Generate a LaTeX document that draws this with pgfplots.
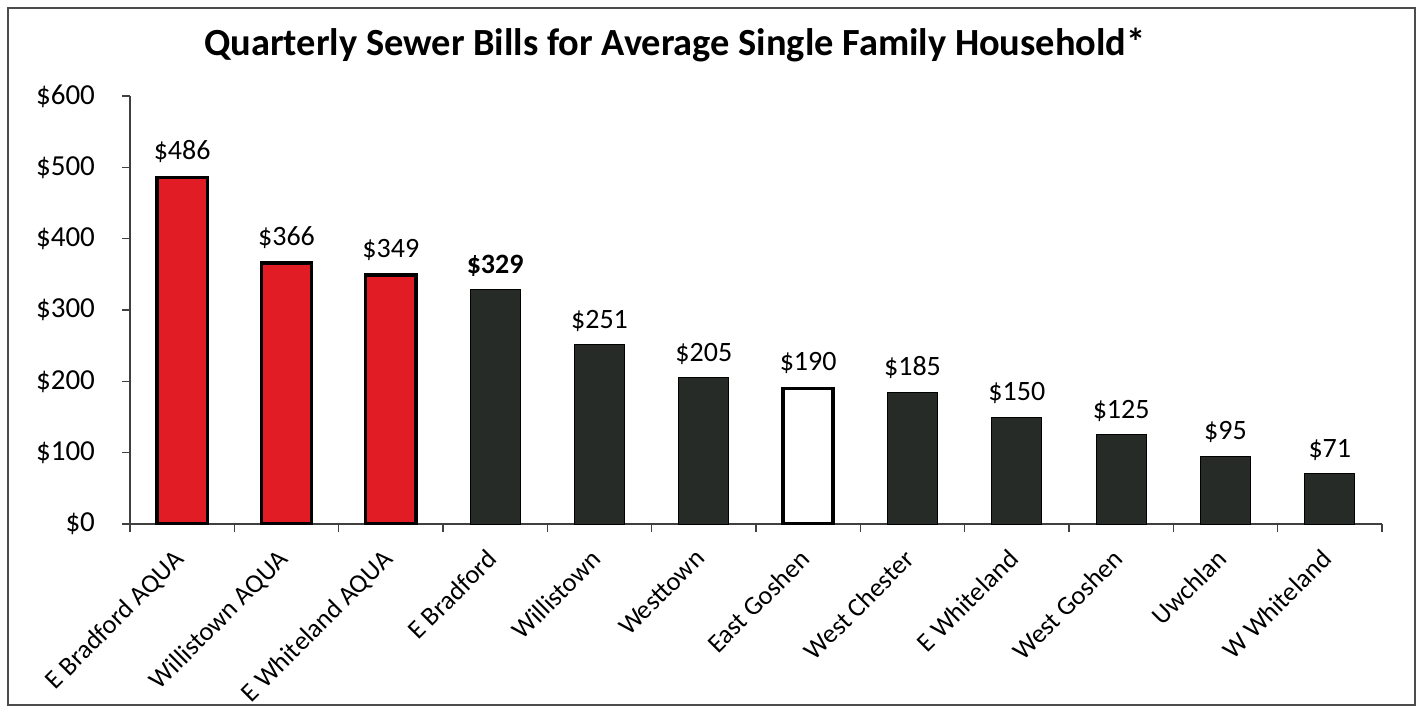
\documentclass[border=0pt]{standalone}
\usepackage{pgfplots}
\pgfplotsset{compat=1.18}
\usepackage{fontspec}
\setmainfont{Carlito}

\definecolor{aquared}{HTML}{E21C24}
\definecolor{darkbar}{HTML}{262B28}

\begin{document}
\begin{tikzpicture}
\useasboundingbox (-65pt,-91.5pt) rectangle (645.5pt,262pt);
\begin{axis}[
    scale only axis,
    width=626pt, height=214pt,
    xmin=-0.5, xmax=11.5,
    ymin=0, ymax=600,
    ybar, bar width=0.48, bar shift=0pt,
    axis x line*=bottom, axis y line*=left,
    axis line style={-, black!75, line width=0.8pt},
    tick align=outside,
    major tick length=4pt, minor tick length=4pt,
    tick style={black!75, line width=0.6pt},
    ytick={0,100,...,600},
    yticklabel={\$\pgfmathprintnumber[assume math mode=true]{\tick}},
    yticklabel style={xshift=-10pt, font=\fontsize{14.5}{16}\selectfont},
    xtick={0,...,11},
    major x tick style={draw=none},
    minor xtick={-0.5,0.5,...,11.5},
    xticklabels={E Bradford AQUA, Willistown AQUA, E Whiteland AQUA, E Bradford,
        Willistown, Westtown, East Goshen, West Chester, E Whiteland,
        West Goshen, Uwchlan, W Whiteland},
    xticklabel style={rotate=45, anchor=north east, inner sep=1pt,
        yshift=-1pt, xshift=-8pt, font=\fontsize{13.2}{16}\selectfont},
    nodes near coords={\$\pgfmathprintnumber[assume math mode=true]{\pgfplotspointmeta}},
    every node near coord/.append style={font=\fontsize{14}{16}\selectfont, black, yshift=3pt},
]
\addplot[fill=aquared, draw=black, line width=1.7pt]
    coordinates {(0,486)(1,366)(2,349)};
\addplot[fill=darkbar, draw=black, line width=0.5pt,
    every node near coord/.append style={font=\bfseries\fontsize{14}{16}\selectfont}]
    coordinates {(3,329)};
\addplot[fill=darkbar, draw=black, line width=0.5pt]
    coordinates {(4,251)(5,205)(7,185)(8,150)(9,125)(10,95)(11,71)};
\addplot[fill=white, draw=black, line width=1.8pt]
    coordinates {(6,190)};
\end{axis}
\node[font=\bfseries\fontsize{19.2}{22}\selectfont] at (272.5pt,239.5pt)
    {Quarterly Sewer Bills for Average Single Family Household*};
\draw[black!70, line width=1pt] (-61pt,-90.5pt) rectangle (642.5pt,258pt);
\end{tikzpicture}
\end{document}
